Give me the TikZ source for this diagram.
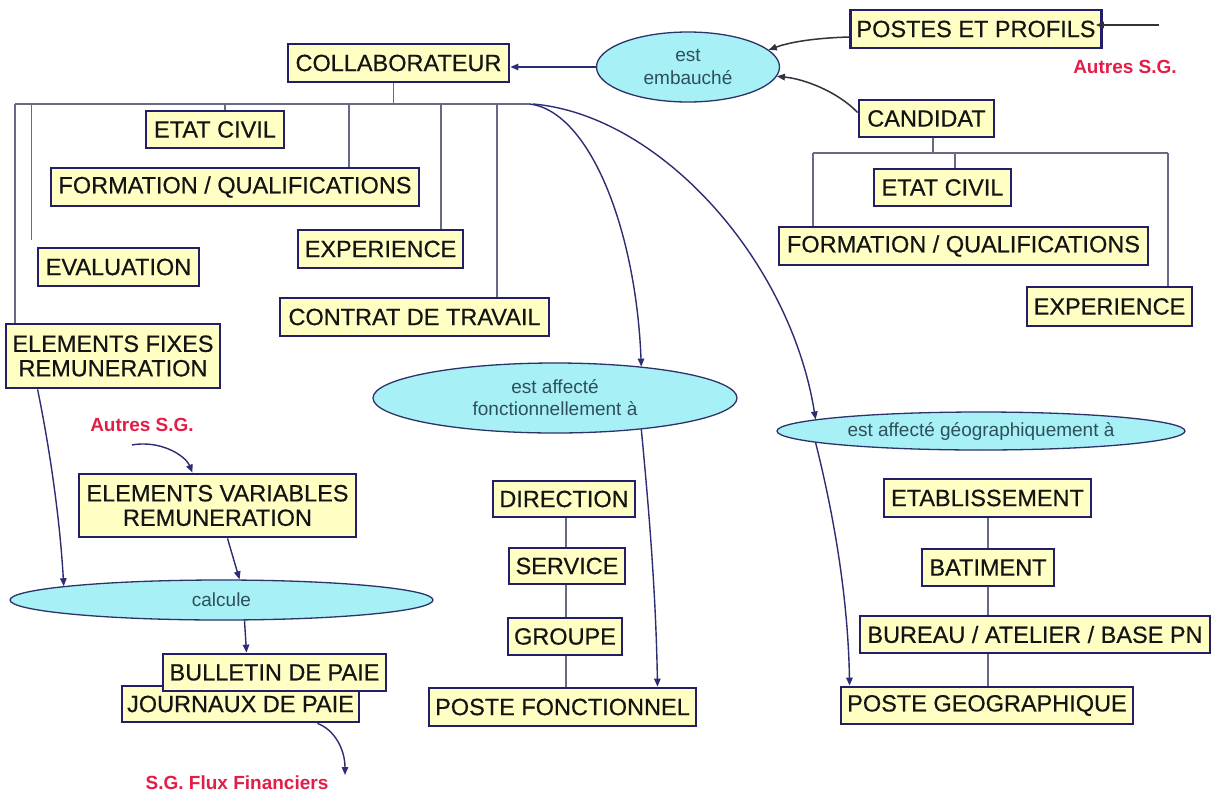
\documentclass[tikz,border=0pt]{standalone}
\usepackage{fontspec}
\setmainfont{Liberation Sans}
\newfontface\boxface{Liberation Sans}[FakeBold=0.5]
\usetikzlibrary{shapes.geometric,arrows.meta,backgrounds}

\definecolor{boxfill}{RGB}{255,255,196}
\definecolor{boxline}{RGB}{34,30,105}
\definecolor{ovalfill}{RGB}{166,240,246}
\definecolor{ovalline}{RGB}{45,50,105}
\definecolor{ovaltext}{RGB}{45,80,90}
\definecolor{treeline}{RGB}{105,105,135}
\definecolor{arrline}{RGB}{45,45,115}
\definecolor{darkarr}{RGB}{50,50,60}
\definecolor{sgred}{RGB}{226,30,72}

\tikzset{
  entity/.style={rectangle, draw=boxline, line width=2.8pt, fill=boxfill,
    inner sep=0pt, align=center, text=black!92,
    font=\boxface\fontsize{23.5}{25}\selectfont},
  relation/.style={ellipse, draw=ovalline, line width=1.3pt, fill=ovalfill,
    inner sep=0pt, align=center, text=ovaltext,
    font=\fontsize{19}{23}\selectfont},
  extlabel/.style={text=sgred, font=\bfseries\fontsize{19}{22}\selectfont, inner sep=1pt},
  wh/.style 2 args={minimum width=#1pt, minimum height=#2pt},
  tree/.style={draw=treeline, line width=1.3pt},
  flow/.style={draw=arrline, line width=1.4pt, -{Triangle[length=8pt,width=6.5pt]}},
  inflow/.style={draw=darkarr, line width=1.5pt, -{Triangle[length=8pt,width=6.5pt]}},
}

\begin{document}
\begin{tikzpicture}[x=1pt, y=-1pt]
\useasboundingbox (0,0) rectangle (1219,796);

% --- hiring -------------------------------------------------------------
\node[entity, wh={251}{38}] (postes) at (976,29) {POSTES ET PROFILS};
\node[entity, wh={221}{38}] (collab) at (398.5,63) {COLLABORATEUR};
\node[relation, wh={183}{70}] (embauche) at (688,67) {est\\embauché};
\node[extlabel] (autres1) at (1125,67) {Autres S.G.};
\node[entity, wh={135}{37}] (candidat) at (926.5,118.5) {CANDIDAT};

% --- candidate details ---------------------------------------------------
\node[entity, wh={137}{37}] (cetat) at (942.5,187.5) {ETAT CIVIL};
\node[entity, wh={369}{38}] (cform) at (963.5,246) {FORMATION / QUALIFICATIONS};
\node[entity, wh={165}{39}] (cexp) at (1109.5,306.5) {EXPERIENCE};

% --- employee details ----------------------------------------------------
\node[entity, wh={138}{37}] (letat) at (215,129.5) {ETAT CIVIL};
\node[entity, wh={368}{38}] (lform) at (235,187) {FORMATION / QUALIFICATIONS};
\node[entity, wh={165}{38}] (lexp) at (380.5,249) {EXPERIENCE};
\node[entity, wh={161}{38}] (leval) at (118.5,267) {EVALUATION};
\node[entity, wh={269}{38}] (contrat) at (414.5,317) {CONTRAT DE TRAVAIL};
\node[entity, wh={214}{64}, font=\boxface\fontsize{23.5}{24.5}\selectfont] (fixes) at (113,356) {ELEMENTS FIXES\\REMUNERATION};

% --- assignments ---------------------------------------------------------
\node[relation, wh={364}{70}, font=\fontsize{19}{22}\selectfont] (fonct) at (555,398) {est affecté\\fonctionnellement à};
\node[relation, wh={408}{38}] (geo) at (981,431) {est affecté géographiquement à};

% --- payroll -------------------------------------------------------------
\node[extlabel] (autres2) at (142,425) {Autres S.G.};
\node[entity, wh={277}{63}, font=\boxface\fontsize{23.5}{24.5}\selectfont] (variables) at (217.5,505.5) {ELEMENTS VARIABLES\\REMUNERATION};
\node[relation, wh={423}{40}] (calcule) at (221.5,600) {calcule};
\node[entity, wh={237}{36}] (journaux) at (240.5,704) {JOURNAUX DE PAIE};
\node[entity, wh={223}{37}] (bulletin) at (274.5,672.5) {BULLETIN DE PAIE};
\node[extlabel] (flux) at (237,783) {S.G. Flux Financiers};

% --- functional structure ------------------------------------------------
\node[entity, wh={142}{36}] (direction) at (564,499) {DIRECTION};
\node[entity, wh={116}{36}] (service) at (567,566) {SERVICE};
\node[entity, wh={114}{37}] (groupe) at (565,636.5) {GROUPE};
\node[entity, wh={267}{38}] (postef) at (562.5,707) {POSTE FONCTIONNEL};

% --- geographical structure ----------------------------------------------
\node[entity, wh={207}{38}] (etab) at (987.5,498) {ETABLISSEMENT};
\node[entity, wh={132}{37}] (batiment) at (988,567.5) {BATIMENT};
\node[entity, wh={350}{37}] (bureau) at (1035,634.5) {BUREAU / ATELIER / BASE PN};
\node[entity, wh={292}{37}] (posteg) at (987,705.5) {POSTE GEOGRAPHIQUE};

% free ends and bus points
\coordinate (postesin) at (1159,25);
\coordinate (fluxin) at (345,775);
\coordinate (busL) at (15,104);
\coordinate (busR) at (530,104);
\coordinate (busC) at (813,153);
\coordinate (evaltop) at ([xshift=-5pt,yshift=7pt]leval.north west);

% --- hierarchy lines (behind the boxes) ----------------------------------
\begin{scope}[on background layer]
  \fill[white] (0,0) rectangle (1219,796);
  % employee bus
  \draw[tree] ([xshift=-5pt]collab.south) -- ([xshift=-5pt]collab.south |- busL);
  \draw[tree] (busL) -- (busR);
  \draw[tree] (busL) -- (busL |- fixes.north);
  \draw[tree] (evaltop |- busL) -- (evaltop);
  \draw[tree] ([xshift=10pt]letat.north |- busL) -- ([xshift=10pt]letat.north);
  \draw[tree] ([xshift=114pt]lform.north |- busL) -- ([xshift=114pt]lform.north);
  \draw[tree] ([xshift=60.5pt]lexp.north |- busL) -- ([xshift=60.5pt]lexp.north);
  \draw[tree] ([xshift=82.5pt]contrat.north |- busL) -- ([xshift=82.5pt]contrat.north);
  % candidate bus
  \draw[tree] ([xshift=6.5pt]candidat.south) -- ([xshift=6.5pt]candidat.south |- busC);
  \draw[tree] (busC) -- (busC -| 1168,0);
  \draw[tree] (busC) -- (busC |- cform.north);
  \draw[tree] ([xshift=12.5pt]cetat.north |- busC) -- ([xshift=12.5pt]cetat.north);
  \draw[tree] ([xshift=58.5pt]cexp.north |- busC) -- ([xshift=58.5pt]cexp.north);
  % functional and geographical chains
  \draw[tree] ([xshift=2pt]direction.south) -- ([xshift=2pt]direction.south |- postef.north);
  \draw[tree] ([xshift=0.5pt]etab.south) -- ([xshift=0.5pt]etab.south |- posteg.north);
\end{scope}

% --- flows ---------------------------------------------------------------
\draw[inflow] (postesin) -- ([xshift=-7pt]postes.east |- postesin);
\draw[inflow] ([yshift=-8pt]postes.west) .. controls (815,38) and (790,42) .. (embauche.12);
\draw[inflow] ([yshift=6pt]candidat.west) .. controls (838,92) and (805,79) .. (embauche.-6);
\draw[flow] (embauche.west) -- (embauche.west -| collab.east);

\draw[flow] (busR) .. controls (590,112) and (636,230) .. (fonct.20);
\draw[flow] ([xshift=3pt]busR) .. controls (660,115) and (790,260) .. (geo.176);
\draw[flow] (fonct.-20) .. controls (650,520) and (656,600) .. ([xshift=95pt]postef.north);
\draw[flow] (geo.184) .. controls (835,520) and (848,600) .. ([xshift=10pt]posteg.north west);

\draw[flow] ([xshift=33pt]fixes.south west) .. controls (50,450) and (60,520) .. (calcule.175);
\draw[flow] ([xshift=-10pt,yshift=-12pt]autres2.south) .. controls (160,440) and (185,455) .. ([xshift=-25pt]variables.north);
\draw[flow] ([xshift=10pt]variables.south) -- ([xshift=18pt]calcule.north);
\draw[flow] ([xshift=23pt]calcule.south) -- ([xshift=-28pt]bulletin.north);
\draw[flow] ([xshift=77pt]journaux.south) .. controls (335,730) and (345,750) .. (fluxin);
\end{tikzpicture}
\end{document}
